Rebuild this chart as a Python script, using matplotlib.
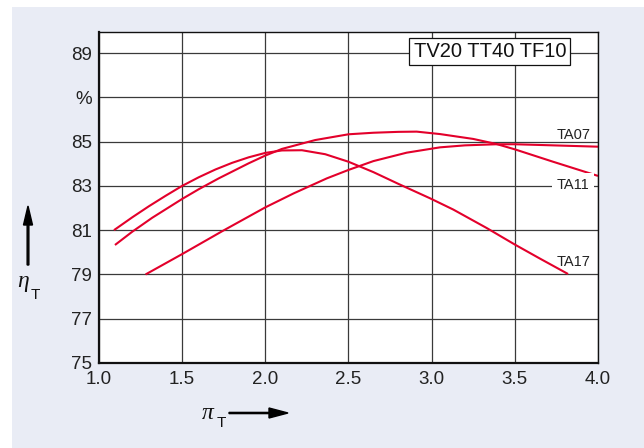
import matplotlib
matplotlib.use("Agg")
import matplotlib.pyplot as plt
from matplotlib.patches import Rectangle, FancyArrow

plt.rcParams['font.family'] = ['Liberation Sans', 'DejaVu Sans']

# Turbine efficiency curves (eta_T in %) over pressure ratio pi_T
ta17_x = [1.09, 1.20, 1.30, 1.40, 1.50, 1.60, 1.70, 1.80, 1.90, 2.00, 2.10, 2.22, 2.36, 2.50,
          2.65, 2.80, 2.99, 3.13, 3.33, 3.50, 3.65, 3.82]
ta17_y = [81.00, 81.58, 82.08, 82.55, 83.00, 83.39, 83.74, 84.04, 84.29, 84.49, 84.60, 84.61, 84.43, 84.09,
          83.62, 83.09, 82.44, 81.93, 81.10, 80.35, 79.72, 79.02]

ta11_x = [1.096, 1.20, 1.32, 1.50, 1.60, 1.72, 1.90, 2.00, 2.10, 2.30, 2.50, 2.65, 2.80, 2.91,
          3.05, 3.25, 3.39, 3.50, 3.73, 4.00]
ta11_y = [80.33, 80.93, 81.56, 82.41, 82.85, 83.34, 84.02, 84.37, 84.67, 85.07, 85.33, 85.40, 85.44, 85.45,
          85.34, 85.12, 84.89, 84.65, 84.09, 83.45]

ta07_x = [1.28, 1.50, 1.74, 2.00, 2.17, 2.37, 2.50, 2.65, 2.85, 3.05, 3.20, 3.39, 3.50, 3.73, 4.00]
ta07_y = [79.00, 79.92, 80.95, 82.03, 82.66, 83.34, 83.72, 84.12, 84.50, 84.74, 84.83, 84.88, 84.88, 84.83, 84.77]

x_ticks = [1.0, 1.5, 2.0, 2.5, 3.0, 3.5, 4.0]
x_tick_labels = ["1.0", "1.5", "2.0", "2.5", "3.0", "3.5", "4.0"]
y_ticks = [75, 77, 79, 81, 83, 85, 87, 89]
y_tick_labels = ["75", "77", "79", "81", "83", "85", "%", "89"]

title_box = "TV20 TT40 TF10"
curve_labels = ["TA07", "TA11", "TA17"]

RED = "#e3002b"
GRID = "#3a3a3a"
PANEL = "#e9ecf5"

W, H = 644, 448
fig = plt.figure(figsize=(W / 100, H / 100), dpi=100)
fig.patch.set_facecolor("white")

# light panel behind the chart
fig.patches.append(Rectangle((12 / W, 0), 1 - 12 / W, 1 - 7 / H, transform=fig.transFigure,
                             facecolor=PANEL, edgecolor="none", zorder=-10))

ax = fig.add_axes([99 / W, 1 - 363 / H, (598 - 99) / W, (363 - 32) / H])
ax.set_zorder(1)
ax.set_facecolor("white")
ax.set_xlim(1.0, 4.0)
ax.set_ylim(75, 89.95)

ax.set_xticks(x_ticks)
ax.set_xticklabels(x_tick_labels)
ax.set_yticks(y_ticks)
ax.set_yticklabels(y_tick_labels)
ax.tick_params(length=0, labelsize=13.5, colors="#222222")
ax.tick_params(axis="y", pad=5)
ax.tick_params(axis="x", pad=6)

ax.grid(True, color=GRID, lw=0.9)
ax.set_axisbelow(True)

for side in ("left", "bottom"):
    ax.spines[side].set_linewidth(1.6)
for side in ("top", "right"):
    ax.spines[side].set_linewidth(1.0)
for sp in ax.spines.values():
    sp.set_color("#111111")
    sp.set_zorder(5)

for xs, ys in ((ta17_x, ta17_y), (ta11_x, ta11_y), (ta07_x, ta07_y)):
    ax.plot(xs, ys, color=RED, lw=1.5, solid_joinstyle="round", solid_capstyle="butt", zorder=3)

# curve names at the right edge
ax.text(3.752, 85.1, curve_labels[0], fontsize=10.5, color="#222222", ha="left", va="baseline", zorder=4)
ax.text(3.752, 82.87, curve_labels[1], fontsize=10.5, color="#222222", ha="left", va="baseline", zorder=4,
        bbox=dict(facecolor="white", edgecolor="none", pad=3.5))
ax.text(3.752, 79.38, curve_labels[2], fontsize=10.5, color="#222222", ha="left", va="baseline", zorder=4)

# configuration box
ax.text(3.35, 89.07, title_box, fontsize=14.5, color="#111111", ha="center", va="center", zorder=6,
        bbox=dict(facecolor="white", edgecolor="#111111", linewidth=0.9, pad=3.0))

# axis names with arrows
fig.text(17 / W, 1 - 287 / H, "η", fontsize=17, family="Liberation Serif", style="italic",
         ha="left", va="baseline", color="#111111")
fig.text(31 / W, 1 - 299 / H, "T", fontsize=11, ha="left", va="baseline", color="#111111")
fig.patches.append(FancyArrow(28 / W, 1 - 265 / H, 0, (265 - 206) / H, width=1.2 / H, head_width=9 / W,
                              head_length=19 / H, length_includes_head=True, color="black",
                              transform=fig.transFigure))

fig.text(202 / W, 1 - 419 / H, "π", fontsize=17, family="Liberation Serif", style="italic",
         ha="left", va="baseline", color="#111111")
fig.text(217 / W, 1 - 427 / H, "T", fontsize=11, ha="left", va="baseline", color="#111111")
fig.patches.append(FancyArrow(229 / W, 1 - 413 / H, (288 - 229) / W, 0, width=1.2 / H, head_width=10 / H,
                              head_length=19 / W, length_includes_head=True, color="black",
                              transform=fig.transFigure))

fig.savefig("out.png", dpi=100)
